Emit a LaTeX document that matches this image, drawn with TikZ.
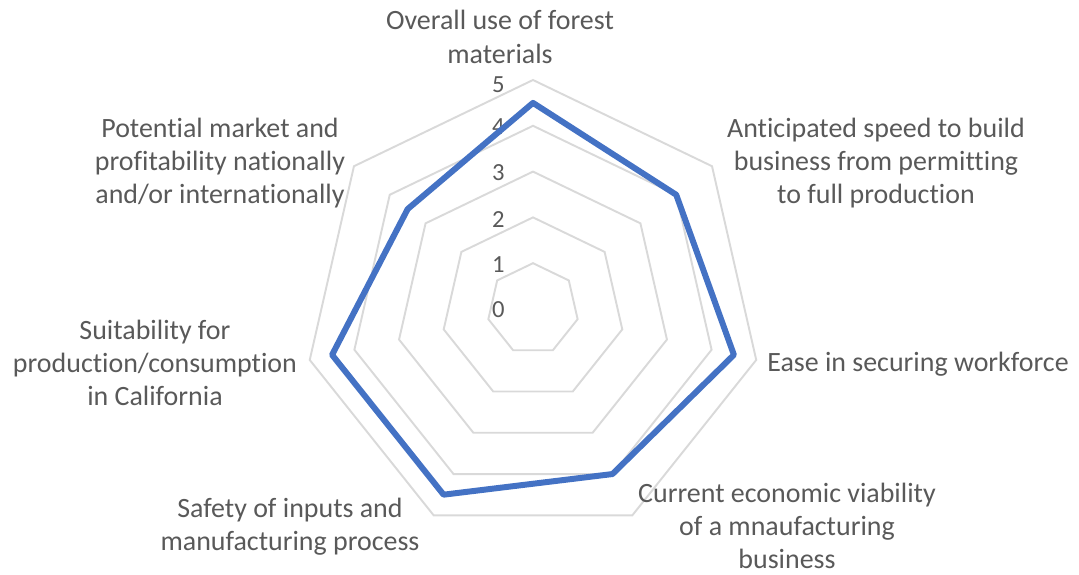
\documentclass[tikz,border=0pt]{standalone}
\usepackage{fontspec}
\setmainfont[Ligatures=NoCommon]{Carlito}
\usetikzlibrary{shapes.geometric}
\definecolor{ringgray}{HTML}{D9D9D9}
\definecolor{textgray}{HTML}{595959}
\definecolor{seriesblue}{HTML}{4472C4}
\tikzset{
  ring/.style={draw=ringgray, line width=1.1pt, regular polygon, regular polygon sides=7, inner sep=0pt, outer sep=0pt},
  catlabel/.style={text=textgray, align=center, font=\fontsize{15.9}{18.9}\selectfont},
  ticklabel/.style={text=textgray, anchor=east, inner sep=0pt, font=\fontsize{14}{16}\selectfont},
  series/.style={draw=seriesblue, line width=3.4pt, line join=round}
}
\def\u{0.916}
\begin{document}
\begin{tikzpicture}
\useasboundingbox (-10.66,-5.32) rectangle (10.92,6.18);

%Rings of the grid
\node[ring, minimum size=2*\u cm] (ring1) at (0,0){};
\node[ring, minimum size=4*\u cm] (ring2) at (0,0){};
\node[ring, minimum size=6*\u cm] (ring3) at (0,0){};
\node[ring, minimum size=8*\u cm] (ring4) at (0,0){};
\node[ring, minimum size=10*\u cm] (ring5) at (0,0){};

%Scale of the axis
\node[ticklabel] (t0) at (-0.56,-0.02){0};
\node[ticklabel] (t1) at (-0.56,0.89){1};
\node[ticklabel] (t2) at (-0.56,1.79){2};
\node[ticklabel] (t3) at (-0.56,2.72){3};
\node[ticklabel] (t4) at (-0.56,3.64){4};
\node[ticklabel] (t5) at (-0.56,4.48){5};

%Scores
\draw[series] (90:{4.5*\u}) -- (38.57:{4*\u}) -- (-12.86:{4.5*\u}) -- (-64.29:{4*\u})
  -- (-115.71:{4.5*\u}) -- (-167.14:{4.5*\u}) -- (141.43:{3.5*\u}) -- cycle;

%Categories
\node[catlabel] (forest) at (-0.66,5.44){Overall use of forest\\materials};
\node[catlabel] (speed) at (6.86,2.92){Anticipated speed to build\\business from permitting\\to full production};
\node[catlabel] (workforce) at (7.70,-1.10){Ease in securing workforce};
\node[catlabel] (viability) at (5.08,-4.34){Current economic viability\\of a mnaufacturing\\business};
\node[catlabel] (safety) at (-4.86,-4.36){Safety of inputs and\\manufacturing process};
\node[catlabel] (suitability) at (-7.56,-1.08){Suitability for\\production/consumption\\in California};
\node[catlabel] (market) at (-6.26,2.92){Potential market and\\profitability nationally\\and/or internationally};

\end{tikzpicture}
\end{document}
